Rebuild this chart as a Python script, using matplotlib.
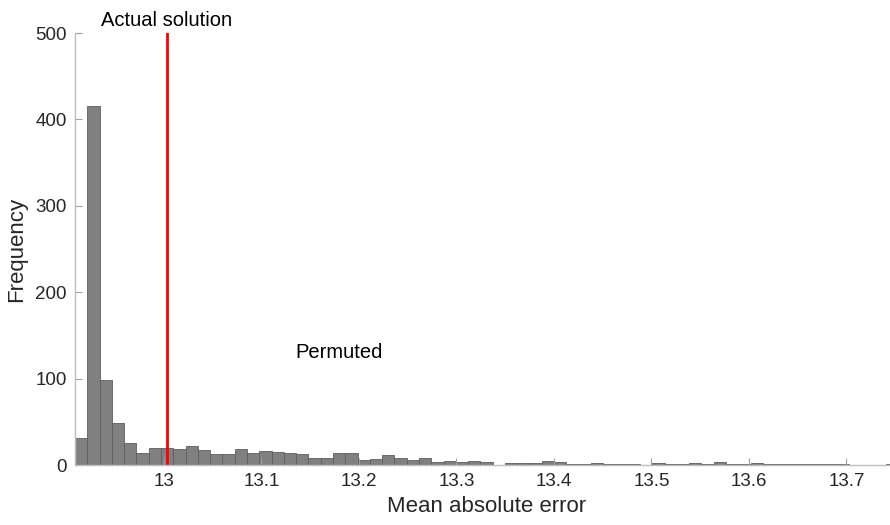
import numpy as np
import matplotlib
matplotlib.use("Agg")
import matplotlib.pyplot as plt

# ── Data ─────────────────────────────────────────────────────────────────────
BIN_START = 12.9087
BIN_WIDTH = 0.0126
counts = [
    31, 416, 98, 49, 25, 14, 20, 20, 19, 22,
    17, 13, 13, 19, 14, 16, 15, 14, 13, 8,
    8, 14, 14, 6, 7, 12, 8, 6, 8, 3,
    5, 4, 5, 4, 0, 2, 2, 2, 5, 3,
    1, 1, 2, 1, 1, 1, 0, 2, 1, 1,
    2, 1, 3, 1, 1, 2, 1, 1, 1, 1,
    1, 1, 1, 0, 0, 0, 1,
]
actual_solution = 13.0028
x_ticks = [13.0, 13.1, 13.2, 13.3, 13.4, 13.5, 13.6, 13.7]
x_tick_labels = ["13", "13.1", "13.2", "13.3", "13.4", "13.5", "13.6", "13.7"]
y_ticks = [0, 100, 200, 300, 400, 500]

edges = BIN_START + BIN_WIDTH * np.arange(len(counts) + 1)

plt.rcParams["font.family"] = ["Liberation Sans", "DejaVu Sans"]

W, H = 890, 525
fig = plt.figure(figsize=(W / 100, H / 100), dpi=100)
# axes runs a little past the right edge of the picture, as in the reference
ax = fig.add_axes([75 / W, 60 / H, 823 / W, 432 / H])

ax.bar(edges[:-1], counts, width=BIN_WIDTH, align="edge",
       color="#808080", edgecolor="#5e5e5e", linewidth=0.6)
ax.axvline(actual_solution, color="red", linewidth=2)

ax.set_xlim(edges[0], edges[-1])
ax.set_ylim(0, 500)
ax.set_xticks(x_ticks)
ax.set_xticklabels(x_tick_labels)
ax.set_yticks(y_ticks)

for side in ["top", "right"]:
    ax.spines[side].set_visible(False)
for side in ["left", "bottom"]:
    ax.spines[side].set_color("#bdbdbd")
    ax.spines[side].set_linewidth(1.0)

ax.tick_params(direction="in", length=5, width=0.8, color="#a0a0a0",
               labelsize=13.5, labelcolor="#262626", pad=6)

ax.set_xlabel("Mean absolute error", fontsize=16, color="#262626", labelpad=4)
ax.set_ylabel("Frequency", fontsize=16, color="#262626", labelpad=6)

ax.text(actual_solution, 1.006, "Actual solution", transform=ax.get_xaxis_transform(),
        ha="center", va="bottom", fontsize=14.5, color="black")
ax.text(13.135, 130, "Permuted", ha="left", va="center", fontsize=14.5, color="black")

fig.savefig("out.png", dpi=100)
